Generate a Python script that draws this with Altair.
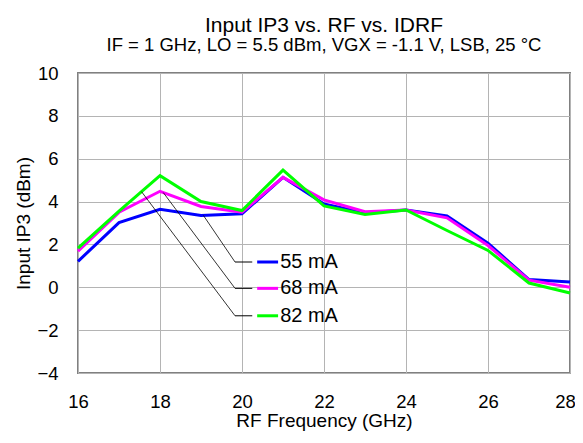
import altair as alt
import pandas as pd

# ---- data ----
freq = [16, 17, 18, 19, 20, 21, 22, 23, 24, 25, 26, 27, 28]
ip3_55 = [1.21, 3.02, 3.64, 3.35, 3.43, 5.13, 3.89, 3.47, 3.61, 3.33, 2.06, 0.36, 0.25]
ip3_68 = [1.69, 3.50, 4.48, 3.77, 3.50, 5.13, 4.08, 3.53, 3.61, 3.24, 1.95, 0.33, 0.00]
ip3_82 = [1.83, 3.55, 5.21, 4.00, 3.58, 5.47, 3.80, 3.40, 3.61, 2.65, 1.72, 0.20, -0.27]
series = ["55 mA", "68 mA", "82 mA"]
colors = ["#0000ff", "#ff00ff", "#00ff00"]
x_ticks = [16, 18, 20, 22, 24, 26, 28]
y_ticks = [-4, -2, 0, 2, 4, 6, 8, 10]

# annotation (callout legend) anchors, in data units
leader_start_x = [19.06, 18.08, 17.55]
leader_start_y = [3.35, 4.42, 4.46]
legend_y = [1.18, -0.05, -1.33]
elbow_x = 19.83
tick_end_x = 20.25
swatch_x1 = 20.37
swatch_x2 = 20.88
label_x = 20.93

FONT = "Liberation Sans"

rows = []
for name, vals in zip(series, [ip3_55, ip3_68, ip3_82]):
    for f, v in zip(freq, vals):
        rows.append({"freq": f, "ip3": v, "series": name})
df = pd.DataFrame(rows)

ann = pd.DataFrame({
    "series": series,
    "sx": leader_start_x,
    "sy": leader_start_y,
    "ly": legend_y,
    "ex": [elbow_x] * 3,
    "tx": [tick_end_x] * 3,
    "w1": [swatch_x1] * 3,
    "w2": [swatch_x2] * 3,
    "lx": [label_x] * 3,
})

xs = alt.Scale(domain=[16, 28], nice=False, zero=False)
ys = alt.Scale(domain=[-4, 10], nice=False, zero=False)
cs = alt.Scale(domain=series, range=colors)

lines = alt.Chart(df).mark_line(strokeWidth=3).encode(
    x=alt.X("freq:Q", scale=xs, title="RF Frequency (GHz)",
            axis=alt.Axis(values=x_ticks, format="d", labelFlush=False,
                          labelPadding=19, titlePadding=1,
                          labelOffset={"condition": {"test": "datum.value == 28", "value": -5},
                                       "value": 0})),
    y=alt.Y("ip3:Q", scale=ys, title="Input IP3 (dBm)",
            axis=alt.Axis(values=y_ticks, format="d", labelFlush=False,
                          labelPadding=20, titlePadding=3)),
    color=alt.Color("series:N", scale=cs, legend=None),
)

leader = alt.Chart(ann).mark_rule(color="black", strokeWidth=0.8).encode(
    x=alt.X("sx:Q", scale=xs), y=alt.Y("sy:Q", scale=ys),
    x2="ex:Q", y2="ly:Q",
)
tick = alt.Chart(ann).mark_rule(color="black", strokeWidth=1).encode(
    x=alt.X("ex:Q", scale=xs), y=alt.Y("ly:Q", scale=ys), x2="tx:Q",
)
swatch = alt.Chart(ann).mark_rule(strokeWidth=3).encode(
    x=alt.X("w1:Q", scale=xs), y=alt.Y("ly:Q", scale=ys), x2="w2:Q",
    color=alt.Color("series:N", scale=cs, legend=None),
)
labels = alt.Chart(ann).mark_text(align="left", baseline="middle", fontSize=20,
                                   font=FONT, color="black").encode(
    x=alt.X("lx:Q", scale=xs), y=alt.Y("ly:Q", scale=ys), text="series:N",
)

chart = alt.layer(lines, leader, tick, swatch, labels).properties(
    width=492, height=300,
    title=alt.TitleParams(
        text="Input IP3 vs. RF vs. IDRF",
        subtitle="IF = 1 GHz, LO = 5.5 dBm, VGX = -1.1 V, LSB, 25 °C",
        fontSize=21, subtitleFontSize=18.5, font=FONT, subtitleFont=FONT,
        fontWeight="normal", color="black", subtitleColor="black",
        anchor="middle", offset=10, subtitlePadding=0,
    ),
    autosize=alt.AutoSizeParams(type="none"),
    padding={"left": 70, "top": 65, "right": 5, "bottom": 60},
).configure_view(
    stroke="#808080", strokeWidth=2,
).configure_axis(
    labelFont=FONT, titleFont=FONT, labelFontSize=18.5, titleFontSize=19,
    labelColor="black", titleColor="black", titleFontWeight="normal",
    grid=True, gridColor="#b4b4b4", gridWidth=1, domain=False, ticks=False,
)

chart.save("out.html", embed_options={"renderer": "svg", "actions": False})
